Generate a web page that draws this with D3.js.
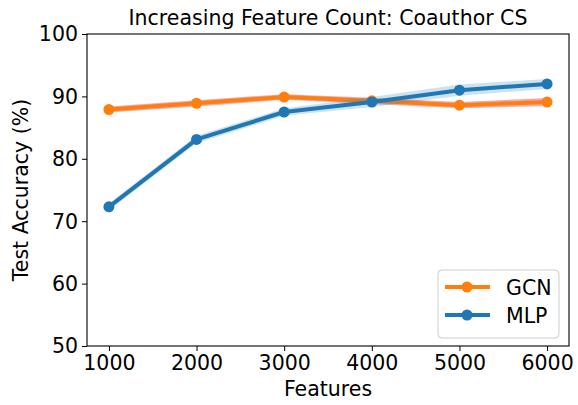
<!DOCTYPE html>
<html><head><meta charset="utf-8">
<script src="https://cdn.jsdelivr.net/npm/d3@7"></script>
<style>body{margin:0;background:#fff}svg{display:block}text{font-family:"DejaVu Sans",sans-serif;fill:#000}</style>
</head><body><svg id="c" width="578" height="405"></svg>
<script>
const features = [1000, 2000, 3000, 4000, 5000, 6000];
const gcnMean = [87.9, 88.9, 89.9, 89.3, 88.6, 89.1];
const gcnStd  = [0.5, 0.5, 0.45, 0.5, 0.5, 0.65];
const mlpMean = [72.3, 83.1, 87.5, 89.1, 91.0, 92.0];
const mlpStd  = [0.55, 0.6, 0.6, 0.8, 0.9, 0.8];
const xTicks = [1000, 2000, 3000, 4000, 5000, 6000];
const yTicks = [50, 60, 70, 80, 90, 100];

const FS = 20.5;
const svg = d3.select("#c");
const L = 87, R = 569, T = 34, B = 346;
const x = d3.scaleLinear().domain([750, 6250]).range([L, R]);
const y = d3.scaleLinear().domain([50, 100]).range([B, T]);

function series(mean, std, color, band, op) {
  const d = features.map((f, i) => ({f, m: mean[i], s: std[i]}));
  svg.append("path").datum(d)
    .attr("d", d3.area().x(p => x(p.f)).y0(p => y(p.m - p.s)).y1(p => y(p.m + p.s)))
    .attr("fill", band).attr("fill-opacity", op).attr("stroke", "none");
  svg.append("path").datum(d)
    .attr("d", d3.line().x(p => x(p.f)).y(p => y(p.m)))
    .attr("fill", "none").attr("stroke", color).attr("stroke-width", 4).attr("stroke-linejoin", "round");
  svg.selectAll(null).data(d).enter().append("circle")
    .attr("cx", p => x(p.f)).attr("cy", p => y(p.m)).attr("r", 5.5).attr("fill", color);
}
series(gcnMean, gcnStd, "#ff7f0e", "#e0405e", 0.45);
series(mlpMean, mlpStd, "#1f77b4", "#1f77b4", 0.22);

// axes
const xa = svg.append("g").attr("transform", `translate(0,${B})`)
  .call(d3.axisBottom(x).tickValues(xTicks).tickFormat(d3.format("d")).tickSizeOuter(0).tickSize(5).tickPadding(4));
const ya = svg.append("g").attr("transform", `translate(${L},0)`)
  .call(d3.axisLeft(y).tickValues(yTicks).tickSizeOuter(0).tickSize(5).tickPadding(4));
[xa, ya].forEach(a => {
  a.selectAll("text").attr("font-size", FS).attr("font-family", "DejaVu Sans").attr("fill", "#000");
  a.selectAll("line").attr("stroke", "#000").attr("stroke-width", 1);
  a.select(".domain").remove();
});
ya.selectAll("text").attr("dy", "0.34em");
svg.append("rect").attr("x", L).attr("y", T).attr("width", R - L).attr("height", B - T)
  .attr("fill", "none").attr("stroke", "#000").attr("stroke-width", 1.1);

// labels
svg.append("text").attr("x", (L + R) / 2).attr("y", 25).attr("text-anchor", "middle")
  .attr("font-size", FS).text("Increasing Feature Count: Coauthor CS");
svg.append("text").attr("x", (L + R) / 2).attr("y", 396).attr("text-anchor", "middle")
  .attr("font-size", FS).text("Features");
svg.append("text").attr("transform", `translate(28,${(T + B) / 2}) rotate(-90)`).attr("text-anchor", "middle")
  .attr("font-size", FS).text("Test Accuracy (%)");

// legend
const lg = svg.append("g");
lg.append("rect").attr("x", 438).attr("y", 270).attr("width", 121).attr("height", 68).attr("rx", 4)
  .attr("fill", "#fff").attr("fill-opacity", 0.8).attr("stroke", "#ccc");
const leg = [{n: "GCN", c: "#ff7f0e"}, {n: "MLP", c: "#1f77b4"}];
leg.forEach((e, i) => {
  const yy = 287 + i * 28;
  lg.append("line").attr("x1", 445).attr("x2", 490).attr("y1", yy).attr("y2", yy)
    .attr("stroke", e.c).attr("stroke-width", 4);
  lg.append("circle").attr("cx", 467).attr("cy", yy).attr("r", 5.5).attr("fill", e.c);
  lg.append("text").attr("x", 506).attr("y", yy + 7.5).attr("font-size", FS).text(e.n);
});
</script></body></html>
